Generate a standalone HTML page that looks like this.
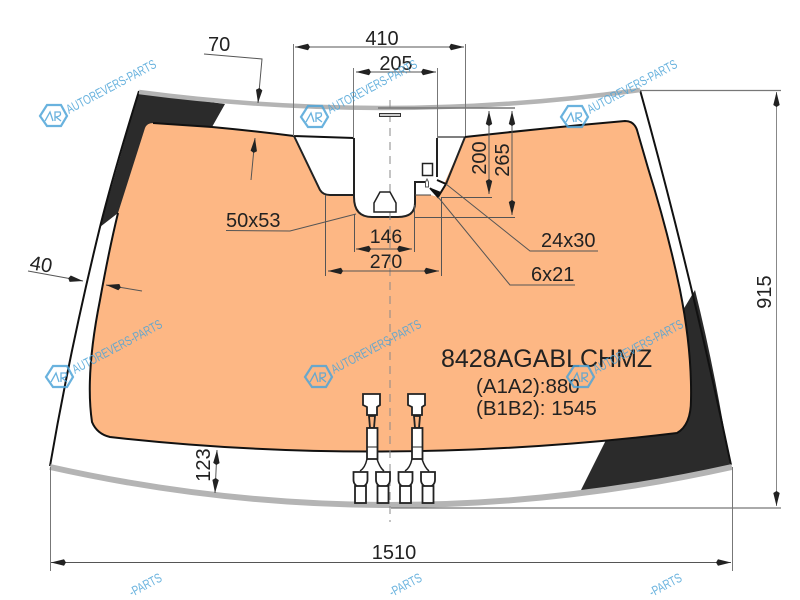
<!DOCTYPE html>
<html><head><meta charset="utf-8"><style>
html,body{margin:0;padding:0;background:#fff;width:800px;height:600px;overflow:hidden}
svg{display:block}
text{font-family:"Liberation Sans",sans-serif;fill:#222}
.w{font-size:13px;fill:#4ea5d8}
.d{stroke:#555;stroke-width:1;fill:none}
.g{stroke:#777;stroke-width:1;fill:none}
.a{stroke:#555;stroke-width:1;fill:none;marker-end:url(#m);marker-start:url(#m)}
.e{stroke:#555;stroke-width:1;fill:none;marker-end:url(#m)}
.c{fill:#fff;stroke:#222;stroke-width:1.8}
.h{fill:none;stroke:#4ea5d8;stroke-width:2.2}
</style></head><body>
<svg width="800" height="600" viewBox="0 0 800 600" xmlns="http://www.w3.org/2000/svg">
<defs>
<marker id="m" markerUnits="userSpaceOnUse" markerWidth="16" markerHeight="8" refX="15" refY="4" orient="auto-start-reverse"><path d="M0,4 L2,0.8 L15,4 L2,7.2 Z" fill="#222"/></marker>
</defs>

<!-- black areas -->
<path d="M139,91 Q178,98 225,104 L212,127 L170,135 L130,205 L118,213 L100,227 Z" fill="#2b2b2b"/>
<path d="M695,290 L683,310 L670,420 L607,438 L580,492 Q660,485 730,465 Q715,370 695,290 Z" fill="#2b2b2b"/>

<!-- orange heated area -->
<path d="M153,123 Q225,126 294,136 L354,138 L353,195 Q354,217 372,217 L398,217 Q415,217 415,203 L415,195 L431,195 L438,197 L465,137 Q545,128 625,121 Q634,121 637,130 L648,168 Q668,232 680,290 Q692,350 691,400 Q691,425 677,433 Q387,468 110,437 Q97,434 92,422 Q85,375 100,300 Q109,250 118,213 L145,128 Q147,123 153,123 Z" fill="#fdb784"/>
<path d="M294,136 L320,190 Q323,195 330,195 L353,195 L415,195 L431,195 L438,197 L465,137 L437,137 L437,178 L430,182 L415,182 L415,203 Q415,217 398,217 L372,217 Q354,217 354,197 L354,138 Z" fill="#fff" stroke="none"/>

<!-- orange outline -->
<path d="M212,127 Q255,131 294,136 L354,138 M465,137 Q545,128 625,121 Q634,121 637,130 L648,168 Q668,232 680,290 Q692,350 691,400 Q691,425 677,433 Q387,468 110,437 Q97,434 92,422 Q85,375 100,300 Q109,250 118,213" fill="none" stroke="#111" stroke-width="2"/>
<path d="M153,123 L212,127" fill="none" stroke="#111" stroke-width="2"/>
<path d="M294,136 L320,190 Q323,195 330,195 L353,195" fill="none" stroke="#222" stroke-width="2"/>
<path d="M354,138 L354,197 Q354,217 372,217 L398,217 Q415,217 415,203 L415,182 L426,182" fill="none" stroke="#222" stroke-width="2"/>
<path d="M437,137 L465,137" fill="none" stroke="#333" stroke-width="1.200"/>
<path d="M437,138 L437,177 M465,137 L446,184" fill="none" stroke="#222" stroke-width="2"/>
<path d="M415,195 L431,195" fill="none" stroke="#444" stroke-width="1"/>
<path d="M437,180 L446,184 L438,197 L430,188" fill="#fff" stroke="#111" stroke-width="2"/>
<path d="M431,188 L438,197 L441,192 Z" fill="#111"/>
<rect x="422.500" y="163.500" width="10" height="12" fill="#fff" stroke="#222" stroke-width="1.500"/>
<path d="M425.500,187 L425.500,182 L427,179 L428.500,182 L428.500,187 Z" fill="#fff" stroke="#555" stroke-width="1"/>

<!-- outer glass edges -->
<path d="M139,91 Q113,175 100,227 Q70,350 50,466" fill="none" stroke="#111" stroke-width="2"/>
<path d="M640,90 Q690,270 731,465" fill="none" stroke="#111" stroke-width="2"/>

<!-- grey bands -->
<path d="M139,92 Q390,125 640,90" fill="none" stroke="#b4b4b4" stroke-width="4.500"/>
<path d="M50,467 Q390,543 732,467" fill="none" stroke="#b4b4b4" stroke-width="6"/>

<!-- centre line & mirror mount -->
<path d="M390,100 L390,522" stroke="#8a8a8a" stroke-width="1" stroke-dasharray="8 6" fill="none"/>
<rect x="379.500" y="113.500" width="21" height="3" fill="#ccc" stroke="#333" stroke-width="1"/>
<path d="M374,212 L396,212 L396,203 L390,192 L380,192 L374,203 Z" fill="#fff" stroke="#222" stroke-width="1.500"/>

<!-- connectors -->
<g>
<path class="c" d="M363,394 H380 V405 L377,407 V415 H367 V407 L363,405 Z"/>
<path class="c" d="M369,416 H375 L374,428 H370 Z" style="fill:#fdb784"/>
<rect class="c" x="367" y="428" width="10.500" height="31"/>
<path d="M367,447 H377" stroke="#222" stroke-width="1"/>
<path d="M367,459 Q365,468 360,471 M377,459 Q380,468 384,471" fill="none" stroke="#222" stroke-width="1.500"/>
<path class="c" d="M353.500,472 H367.500 V480 A7,7 0 0 1 353.500,480 Z"/>
<rect class="c" x="355" y="486" width="11" height="17"/>
<path class="c" d="M376,472 H390 V480 A7,7 0 0 1 376,480 Z"/>
<rect class="c" x="377.500" y="486" width="11" height="17"/>
</g>
<g transform="translate(45,0)">
<path class="c" d="M363,394 H380 V405 L377,407 V415 H367 V407 L363,405 Z"/>
<path class="c" d="M369,416 H375 L374,428 H370 Z" style="fill:#fdb784"/>
<rect class="c" x="367" y="428" width="10.500" height="31"/>
<path d="M367,447 H377" stroke="#222" stroke-width="1"/>
<path d="M367,459 Q365,468 360,471 M377,459 Q380,468 384,471" fill="none" stroke="#222" stroke-width="1.500"/>
<path class="c" d="M353.500,472 H367.500 V480 A7,7 0 0 1 353.500,480 Z"/>
<rect class="c" x="355" y="486" width="11" height="17"/>
<path class="c" d="M376,472 H390 V480 A7,7 0 0 1 376,480 Z"/>
<rect class="c" x="377.500" y="486" width="11" height="17"/>
</g>

<!-- extension lines -->
<path class="g" d="M293.500,44 V136 M465.500,44 V136 M353.500,68 V138 M437.500,68 V137"/>
<path class="d" d="M325.500,195 V276 M354.500,214 V252 M414.500,205 V252 M441.500,197 V276"/>
<path class="d" d="M441,197.500 H492 M415,217.500 H515"/>
<path d="M378,108 H515" stroke="#777" stroke-width="1.500" fill="none"/>
<path class="g" d="M640,90.500 H781 M391,508 H781" style="stroke-width:1.200"/>
<path class="g" d="M50.500,467 V571 M732.500,467 V571"/>

<!-- dimensions -->
<path class="a" d="M295,47 H464"/>
<path class="a" d="M356,72 H436"/>
<path class="a" d="M356,249 H412"/>
<path class="a" d="M328,271 H439"/>
<path class="a" d="M489,111 V194"/>
<path class="a" d="M512,111 V215"/>
<path class="a" d="M776.500,92 V506" style="stroke:#888"/>
<path class="a" d="M51,562.500 H731"/>
<path class="a" d="M217,450 L215,493"/>
<path class="e" d="M204,54 L262,59 L258,103"/>
<path class="e" d="M251,180 L255,138"/>
<path class="e" d="M28,271 L83,281"/>
<path class="e" d="M142,291 L106,285"/>
<path class="d" d="M226,230.500 L290,231 L356,214"/>
<path class="d" d="M446,184 L530,251 L598,251"/>
<path class="d" d="M438,197 L510,285 L575,285"/>

<!-- labels -->
<g>
<text x="382" y="45" font-size="20" text-anchor="middle">410</text>
<text x="396" y="70" font-size="20" text-anchor="middle">205</text>
<text x="208" y="51" font-size="20">70</text>
<text x="386" y="243" font-size="19.500" text-anchor="middle">146</text>
<text x="386" y="268" font-size="19.500" text-anchor="middle">270</text>
<text x="226" y="227" font-size="20">50x53</text>
<text x="541" y="247" font-size="20">24x30</text>
<text x="531" y="281" font-size="20">6x21</text>
<text x="29" y="269" font-size="20" transform="rotate(10 29 269)">40</text>
<text x="394" y="559" font-size="20" text-anchor="middle">1510</text>
<text transform="translate(486,158) rotate(-90)" font-size="20" text-anchor="middle">200</text>
<text transform="translate(509,160) rotate(-90)" font-size="20" text-anchor="middle">265</text>
<text transform="translate(771,292) rotate(-90)" font-size="20" text-anchor="middle">915</text>
<text transform="translate(210,465) rotate(-90)" font-size="20" text-anchor="middle">123</text>
<text x="441" y="367" font-size="25" fill="#111">8428AGABLCHMZ</text>
<text x="476" y="393" font-size="20.500">(A1A2):880</text>
<text x="476" y="415" font-size="20.500">(B1B2): 1545</text>
</g>

<!-- watermarks -->
<g opacity="0.85">
<g transform="translate(53,116)"><path class="h" d="M-13,0 L-6,-11 L8,-11 L14,0 L8,10 L-6,10 Z"/><path class="h" d="M-8,5 L-3,-4 L0,5 M2,5 V-4 H7 Q9,0 3,1 L8,5" style="stroke-width:1.300"/></g>
<text class="w" transform="translate(69,114) rotate(-28)" textLength="100" lengthAdjust="spacingAndGlyphs">AUTOREVERS-PARTS</text>
<g transform="translate(314,117)"><path class="h" d="M-13,0 L-6,-11 L8,-11 L14,0 L8,10 L-6,10 Z"/><path class="h" d="M-8,5 L-3,-4 L0,5 M2,5 V-4 H7 Q9,0 3,1 L8,5" style="stroke-width:1.300"/></g>
<text class="w" transform="translate(330,114) rotate(-28)" textLength="100" lengthAdjust="spacingAndGlyphs">AUTOREVERS-PARTS</text>
<g transform="translate(574,117)"><path class="h" d="M-13,0 L-6,-11 L8,-11 L14,0 L8,10 L-6,10 Z"/><path class="h" d="M-8,5 L-3,-4 L0,5 M2,5 V-4 H7 Q9,0 3,1 L8,5" style="stroke-width:1.300"/></g>
<text class="w" transform="translate(590,114) rotate(-28)" textLength="100" lengthAdjust="spacingAndGlyphs">AUTOREVERS-PARTS</text>
<g transform="translate(59,377)"><path class="h" d="M-13,0 L-6,-11 L8,-11 L14,0 L8,10 L-6,10 Z"/><path class="h" d="M-8,5 L-3,-4 L0,5 M2,5 V-4 H7 Q9,0 3,1 L8,5" style="stroke-width:1.300"/></g>
<text class="w" transform="translate(75,374) rotate(-28)" textLength="100" lengthAdjust="spacingAndGlyphs">AUTOREVERS-PARTS</text>
<g transform="translate(318,377)"><path class="h" d="M-13,0 L-6,-11 L8,-11 L14,0 L8,10 L-6,10 Z"/><path class="h" d="M-8,5 L-3,-4 L0,5 M2,5 V-4 H7 Q9,0 3,1 L8,5" style="stroke-width:1.300"/></g>
<text class="w" transform="translate(334,374) rotate(-28)" textLength="100" lengthAdjust="spacingAndGlyphs">AUTOREVERS-PARTS</text>
<g transform="translate(580,377)"><path class="h" d="M-13,0 L-6,-11 L8,-11 L14,0 L8,10 L-6,10 Z"/><path class="h" d="M-8,5 L-3,-4 L0,5 M2,5 V-4 H7 Q9,0 3,1 L8,5" style="stroke-width:1.300"/></g>
<text class="w" transform="translate(596,374) rotate(-28)" textLength="100" lengthAdjust="spacingAndGlyphs">AUTOREVERS-PARTS</text>
<text class="w" transform="translate(132,597) rotate(-28)" textLength="35" lengthAdjust="spacingAndGlyphs">-PARTS</text>
<text class="w" transform="translate(392,597) rotate(-28)" textLength="35" lengthAdjust="spacingAndGlyphs">-PARTS</text>
<text class="w" transform="translate(652,597) rotate(-28)" textLength="35" lengthAdjust="spacingAndGlyphs">-PARTS</text>
</g>
</svg>
</body></html>
